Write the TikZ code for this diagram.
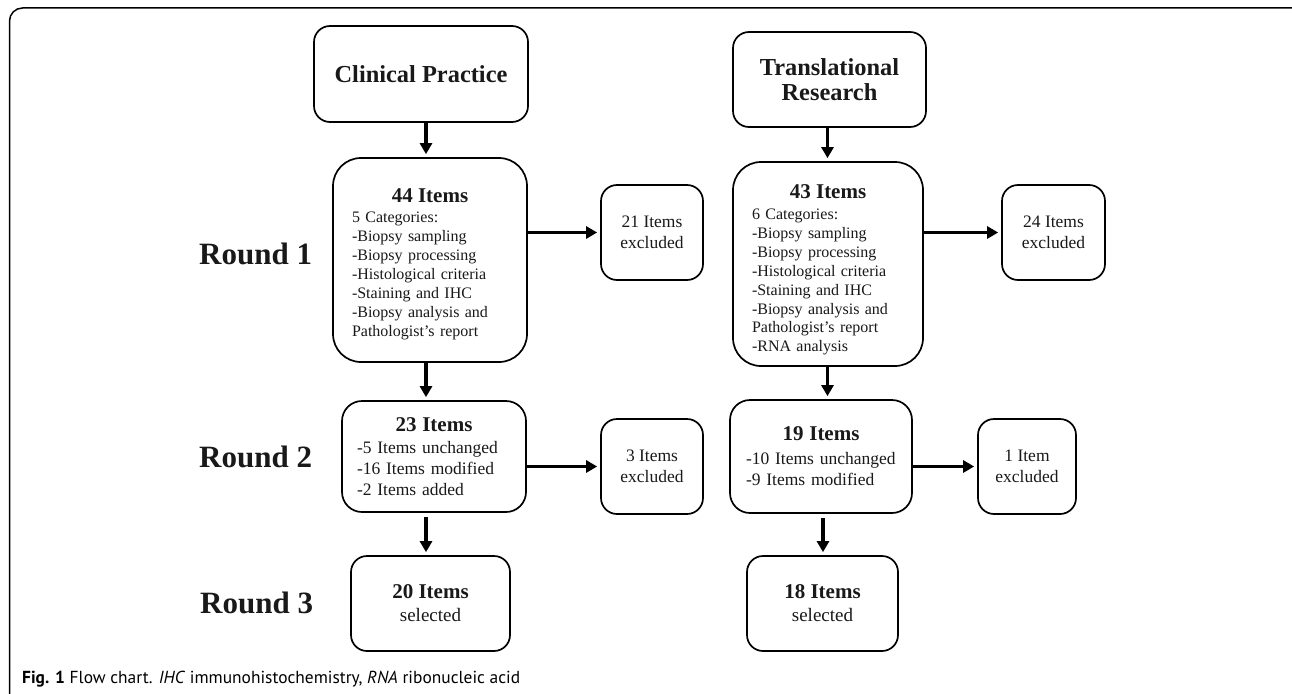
\documentclass[tikz,border=0pt]{standalone}
\usepackage{fontspec}
\setmainfont{Liberation Serif}
\newfontfamily\capfont{PT Sans}
\usetikzlibrary{arrows.meta}
\begin{document}
\begin{tikzpicture}[x=1pt,y=-1pt,
  box/.style={draw, line width=1.7pt, rounded corners=#1, inner sep=0pt, text=black!90},
  box/.default=16pt,
  arr/.style={line width=3.2pt, -{Triangle[length=11pt,width=12pt]}, shorten >=3pt},
  roundlbl/.style={anchor=west, inner sep=0pt, font=\fontsize{31}{36}\selectfont\bfseries, text=black!90},
  headtxt/.style={font=\fontsize{24.4}{25}\selectfont\bfseries, align=center},
  exctxt/.style={font=\fontsize{17.5}{20.5}\selectfont, align=center},
  seltxt/.style={font=\fontsize{19}{23}\selectfont, align=center},
]
\useasboundingbox (0,0) rectangle (1292,693);
\fill[white] (0,0) rectangle (1292,693);
\clip (0,0) rectangle (1292,693);
% frame
\draw[line width=1.5pt, rounded corners=13pt] (9.5,8) rectangle (1320,720);

% top boxes
\node[box=16pt, minimum width=214pt, minimum height=96pt, headtxt] (cp) at (421,74) {Clinical Practice};
\node[box=16pt, minimum width=193pt, minimum height=95pt, headtxt] (tr) at (829.5,79.5) {Translational\\Research};

% round labels
\node[roundlbl] (r1lbl) at (199,254) {Round 1};
\node[roundlbl] (r2lbl) at (199,457) {Round 2};
\node[roundlbl] (r3lbl) at (200,603) {Round 3};

% round 1
\node[box=28pt, minimum width=194pt, minimum height=204pt, text width=156pt, inner xsep=19pt, align=left,
      font=\fontsize{16}{19}\selectfont] (i44) at (430,260)
 {\makebox[156pt]{\rule{0pt}{23pt}\fontsize{21}{19}\selectfont\bfseries 44 Items}\\[1pt]
  5 Categories:\\
  -Biopsy sampling\\
  -Biopsy processing\\
  -Histological criteria\\
  -Staining and IHC\\
  -Biopsy analysis and\\
  Pathologist’s report};
\node[box=16pt, minimum width=102pt, minimum height=95pt, exctxt] (x21) at (652,232.5) {21 Items\\excluded};

\node[box=28pt, minimum width=190pt, minimum height=204pt, text width=152pt, inner xsep=19pt, align=left,
      font=\fontsize{16}{18.9}\selectfont] (i43) at (828,264)
 {\makebox[152pt]{\rule{0pt}{26pt}\fontsize{21}{19}\selectfont\bfseries 43 Items}\\[2pt]
  6 Categories:\\
  -Biopsy sampling\\
  -Biopsy processing\\
  -Histological criteria\\
  -Staining and IHC\\
  -Biopsy analysis and\\
  Pathologist’s report\\
  -RNA analysis};
\node[box=16pt, minimum width=103pt, minimum height=95pt, exctxt] (x24) at (1053.5,232.5) {24 Items\\excluded};

% round 2
\node[box=20pt, minimum width=184pt, minimum height=111pt, text width=154pt, inner xsep=15pt, align=left,
      font=\fontsize{17.5}{21}\selectfont] (i23) at (434,456.5)
 {\makebox[154pt]{\fontsize{21}{21}\selectfont\bfseries 23 Items}\\[1pt]
  -5 Items unchanged\\
  -16 Items modified\\
  -2 Items added};
\node[box=16pt, minimum width=102pt, minimum height=95pt, exctxt] (x3) at (652,466.5) {3 Items\\excluded};

\node[box=20pt, minimum width=182pt, minimum height=113pt, text width=150pt, inner xsep=16pt, align=left,
      font=\fontsize{17.5}{21}\selectfont] (i19) at (821,456.5)
 {\makebox[150pt]{\fontsize{21}{21}\selectfont\bfseries 19 Items}\\[3pt]
  -10 Items unchanged\\
  -9 Items modified};
\node[box=16pt, minimum width=98pt, minimum height=95pt, exctxt] (x1) at (1027,466.5) {1 Item\\excluded};

% round 3
\node[box=16pt, minimum width=159pt, minimum height=95pt, seltxt] (s20) at (430.5,603.5)
 {{\fontsize{21}{23}\selectfont\bfseries 20 Items}\\selected};
\node[box=16pt, minimum width=151pt, minimum height=95pt, seltxt] (s18) at (822.5,603.5)
 {{\fontsize{21}{23}\selectfont\bfseries 18 Items}\\selected};

% arrow x positions
\coordinate (xa) at (426,0);
\coordinate (xb) at (827.5,0);
\coordinate (xc) at (823,0);

\draw[arr] (cp.south -| xa) -- (i44.north -| xa);
\draw[arr] (i44.south -| xa) -- (i23.north -| xa);
\draw[arr, shorten <=4pt] (i23.south -| xa) -- (s20.north -| xa);
\draw[arr] (tr.south -| xb) -- (i43.north -| xb);
\draw[arr] (i43.south -| xb) -- (i19.north -| xb);
\draw[arr, shorten <=4pt] (i19.south -| xc) -- (s18.north -| xc);

\draw[arr] (i44.east |- x21) -- (x21.west);
\draw[arr] (i43.east |- x24) -- (x24.west);
\draw[arr] (i23.east |- x3) -- (x3.west);
\draw[arr] (i19.east |- x1) -- (x1.west);

% caption
\node[anchor=west, inner sep=0pt, font=\capfont\fontsize{17.4}{20}\selectfont] (cap) at (22,679)
 {\textbf{Fig. 1} Flow chart. \textit{IHC} immunohistochemistry, \textit{RNA} ribonucleic acid};
\end{tikzpicture}
\end{document}
